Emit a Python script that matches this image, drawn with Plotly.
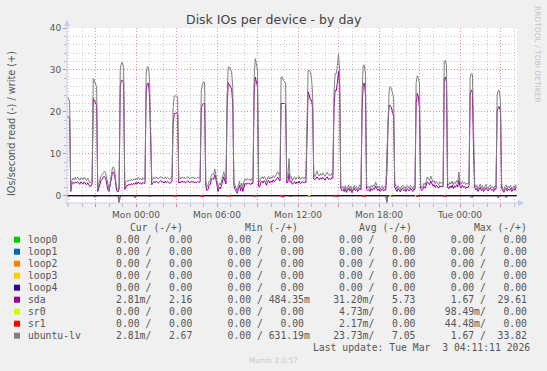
import pandas as pd
import plotly.graph_objects as go

# ---------------- data (5-minute samples, first sample Sun 2026-03-01 18:55) ----------------
START = "2026-03-01 18:55"

lv_write = [
    23.5, 23.0, 22.6,
    1.4,
    3.6, 4.2, 3.8, 4.4, 3.9, 4.5, 4.0, 3.7, 4.3, 4.1, 3.8, 4.4, 4.0, 3.6, 4.2, 3.4, 3.0, 3.2, 3.8,
    28.0, 27.3, 26.5, 26.0,
    1.8, 3.0, 4.2, 4.8, 5.0, 5.6, 5.8, 5.4, 3.8, 2.2, 1.6, 3.0, 5.2, 6.6, 6.9, 6.0, 3.5, 1.8, 1.5, 2.2,
    30.0, 31.7, 31.7, 30.5,
    2.2, 3.3, 3.6, 3.4, 3.8, 3.5, 3.9, 3.6, 4.0, 3.7, 4.2, 3.8, 4.4, 3.9, 4.1, 3.7, 4.3, 3.9, 4.0,
    29.0, 30.8, 30.6, 28.0, 18.3,
    3.7, 4.0, 4.4, 4.1, 4.5, 4.2, 4.0, 4.4, 4.6, 4.2, 4.3, 4.0, 4.5, 4.1, 4.4, 4.2, 3.9, 4.3, 4.4,
    21.0, 23.8, 23.8, 23.8, 23.5,
    4.0, 4.3, 4.1, 4.5, 4.2, 4.4, 4.0, 4.3, 4.6, 4.2, 4.1, 4.4, 4.2, 4.5, 4.0, 4.3, 4.1, 4.4, 4.2, 4.3,
    25.0, 26.4, 27.2, 27.0,
    3.5, 2.1, 2.5, 3.5, 3.6, 5.0, 5.2, 5.0, 6.4, 5.0, 3.0, 1.8, 3.0, 2.5, 3.5, 4.5, 5.7, 4.5, 3.5,
    24.0, 30.7, 30.7, 30.0, 29.5, 26.0,
    3.3, 2.5, 1.4, 1.0, 2.5, 3.5, 2.0, 3.0, 1.8, 3.5, 4.0, 3.6, 4.1, 3.8, 4.0, 3.5, 4.1, 3.9,
    28.0, 32.7, 31.5, 29.9,
    3.5, 3.3, 4.2, 4.5, 4.0, 4.6, 4.2, 3.3, 4.4, 4.6, 4.0, 4.5, 4.2, 4.8, 4.3, 4.6, 5.2, 5.7, 5.0, 4.6,
    28.3, 28.3, 27.5, 27.1, 27.0,
    4.0, 4.5, 8.9, 4.3, 4.6, 3.5, 4.2, 4.5, 3.8, 4.4, 4.1, 4.6, 3.9, 4.3, 4.5, 4.0, 4.4, 4.2,
    22.0, 29.9, 29.9, 29.5, 28.0, 24.0,
    5.0, 4.6, 5.2, 5.9, 5.0, 4.7, 5.3, 4.8, 5.5, 5.0, 4.6, 5.2, 5.6, 4.9, 5.1, 4.7, 5.4, 5.3,
    24.8, 29.1, 29.1, 31.0, 33.82, 30.0,
    2.5, 1.8, 2.2, 1.5, 2.4, 1.2, 2.0, 2.6, 1.6, 2.3, 1.0, 1.9, 2.5, 1.7, 2.2, 1.4, 2.1, 2.6, 2.0,
    25.0, 31.1, 31.1, 29.0,
    2.5, 1.8, 2.2, 1.6, 2.4, 2.0, 2.6, 2.2, 3.3, 2.5, 1.8, 2.3, 1.5, 2.1, 2.4, 1.7, 2.2, 1.9,
    10.5, 20.0, 25.0, 26.0, 25.5, 24.5, 23.5,
    3.0, 2.2, 1.6, 2.4, 2.0, 1.4, 2.3, 2.5, 1.8, 2.2, 1.5, 2.4, 2.1, 1.7, 2.5, 2.0, 1.6, 2.3, 2.2,
    27.0, 28.6, 28.0, 26.8,
    2.5, 1.8, 2.2, 3.0, 2.6, 3.5, 4.5, 4.0, 3.6, 4.7, 3.8, 3.2, 3.6, 2.8, 3.4, 3.0, 2.6, 3.3, 2.9, 3.2, 3.0,
    32.0, 32.3, 31.0,
    3.0, 2.5, 3.2, 2.8, 3.5, 2.6, 3.3, 2.9, 3.6, 3.0, 5.7, 3.1, 2.7, 3.4, 2.9, 3.2, 2.6, 3.0, 2.8, 3.3,
    28.0, 29.1, 29.0, 16.8,
    2.8, 2.0, 2.5, 1.6, 2.2, 2.8, 1.8, 2.4, 1.5, 2.1, 2.7, 2.0, 1.6, 2.3, 2.6, 1.9, 2.2, 1.5, 2.4, 2.1,
    24.0, 25.2, 25.0, 22.4,
    2.5, 1.8, 1.2, 2.2, 2.6, 1.6, 2.3, 1.9, 2.5, 1.4, 2.1, 2.4, 1.8, 2.67,
]

sda_write = [
    18.8, 18.8, 18.5,
    1.0,
    2.8, 3.2, 2.9, 3.3, 3.0, 3.4, 3.1, 2.7, 3.3, 3.0, 2.8, 3.3, 3.0, 2.6, 3.1, 2.5, 2.2, 2.3, 2.8,
    23.2, 22.6, 22.0, 21.6,
    1.0, 2.0, 3.2, 3.7, 4.0, 4.5, 4.6, 4.2, 2.8, 1.4, 1.0, 2.2, 4.2, 5.4, 5.7, 4.9, 2.6, 1.1, 0.9, 1.6,
    26.0, 27.5, 27.5, 27.0,
    1.5, 2.2, 2.5, 2.4, 2.8, 2.5, 2.9, 2.6, 3.0, 2.7, 3.2, 2.8, 3.3, 2.9, 3.1, 2.7, 3.2, 2.9, 3.0,
    25.0, 26.8, 26.8, 24.0, 14.0,
    2.6, 3.0, 3.4, 3.1, 3.5, 3.2, 3.0, 3.4, 3.6, 3.2, 3.3, 3.0, 3.5, 3.1, 3.4, 3.2, 2.9, 3.3, 3.4,
    17.0, 19.6, 19.6, 19.8, 19.4,
    3.0, 3.3, 3.1, 3.5, 3.2, 3.4, 3.0, 3.3, 3.6, 3.2, 3.1, 3.4, 3.2, 3.5, 3.0, 3.3, 3.1, 3.4, 3.2, 3.3,
    21.0, 21.6, 22.0, 22.0,
    2.5, 1.2, 1.5, 2.5, 2.6, 4.0, 4.1, 3.9, 5.0, 4.0, 2.0, 1.0, 2.0, 1.6, 2.5, 3.5, 4.5, 3.5, 2.8,
    21.0, 27.0, 26.5, 26.0, 25.5, 22.0,
    2.5, 1.5, 0.8, 0.6, 1.5, 2.5, 1.2, 2.0, 1.0, 2.5, 3.0, 2.7, 3.1, 2.8, 3.0, 2.6, 3.1, 2.9,
    24.0, 28.3, 26.8, 26.0,
    2.2, 2.1, 3.2, 3.5, 3.0, 3.6, 3.2, 2.5, 3.4, 3.6, 3.0, 3.5, 3.2, 3.8, 3.3, 3.6, 4.0, 4.4, 3.9, 3.5,
    22.0, 22.0, 22.0, 22.0, 21.8,
    3.0, 3.3, 5.3, 3.2, 3.4, 2.7, 3.1, 3.4, 2.8, 3.3, 3.0, 3.5, 2.9, 3.2, 3.4, 3.0, 3.3, 3.1,
    18.0, 24.8, 24.0, 22.8, 22.8, 21.0,
    4.0, 3.8, 4.2, 4.5, 4.0, 3.8, 4.3, 3.9, 4.4, 4.0, 3.7, 4.2, 4.5, 3.9, 4.1, 3.8, 4.3, 4.2,
    21.0, 25.2, 25.0, 27.0, 29.61, 26.0,
    1.8, 1.2, 1.5, 1.0, 1.7, 0.8, 1.4, 1.8, 1.1, 1.6, 0.7, 1.3, 1.8, 1.2, 1.5, 1.0, 1.4, 1.8, 1.4,
    21.0, 26.8, 26.8, 24.0,
    1.5, 1.2, 1.5, 1.0, 1.7, 1.3, 1.8, 1.5, 2.3, 1.7, 1.2, 1.6, 1.0, 1.4, 1.7, 1.1, 1.5, 1.3,
    5.5, 17.0, 21.6, 21.5, 21.0, 20.0, 19.0,
    2.0, 1.5, 1.0, 1.7, 1.3, 0.9, 1.6, 1.8, 1.2, 1.5, 1.0, 1.7, 1.4, 1.1, 1.8, 1.3, 1.0, 1.6, 1.5,
    22.0, 24.4, 23.6, 20.8,
    1.8, 1.2, 1.5, 2.2, 1.8, 2.6, 3.3, 3.0, 2.6, 3.5, 2.8, 2.3, 2.6, 2.0, 2.5, 2.2, 1.8, 2.4, 2.1, 2.3, 2.2,
    28.0, 28.3, 27.0,
    2.0, 1.6, 2.3, 1.9, 2.5, 1.7, 2.4, 2.0, 2.6, 2.1, 3.8, 2.2, 1.8, 2.5, 2.0, 2.3, 1.7, 2.1, 1.9, 2.4,
    24.0, 25.2, 24.8, 11.3,
    2.0, 1.4, 1.8, 1.0, 1.5, 2.0, 1.2, 1.7, 1.0, 1.5, 1.9, 1.4, 1.1, 1.6, 1.8, 1.3, 1.5, 1.0, 1.7, 1.5,
    20.0, 21.2, 21.2, 20.0,
    1.8, 1.2, 0.8, 1.5, 1.8, 1.1, 1.6, 1.3, 1.8, 1.0, 1.5, 1.7, 1.3, 2.16,
]

# reads (drawn downwards, as negative values)
sda_read = [
    0, 0, 0, 0, 0, 0, 0, 0, 0, 0, 0, 0, 0, 0, 0, 0, 0, 0, 0, 0,
    0, 0, 0, 0, 0.3, 0.2, 0, 0, 0, 0, 0, 0, 0, 0, 0, 0, 0, 0, 0, 0,
    0, 0, 0, 0, 0, 0, 1.67, 0, 0, 0, 0, 0, 0, 0, 0, 0, 0, 0, 0, 0,
    0.5, 0, 0, 0, 0, 0, 0, 0, 0, 0, 0, 0, 0, 0.3, 0, 0, 0, 0, 0, 0,
    0, 0, 0, 0, 0, 0, 0, 0, 0, 0, 0, 0, 0, 0, 0, 0, 0.15, 0, 0, 0,
    0, 0, 0, 0, 0, 0, 0, 0, 0, 0, 0, 0, 0, 0, 0, 0, 0, 0, 0, 0,
    0.25, 0, 0, 0, 0, 0, 0, 0, 0, 0, 0, 0, 0, 0, 0, 0, 0, 0, 0, 0,
    0, 0, 0, 0, 0, 0.15, 0, 0, 0, 0, 0, 0, 0, 0, 0, 0, 0, 0, 0, 0,
    0, 0, 0, 0, 0, 0, 0, 0.2, 0, 0, 0, 0, 0, 0, 0, 0, 0, 0, 0, 0,
    0, 0, 0, 0, 0, 0, 0, 0, 0, 0, 0, 0.3, 0.35, 0, 0, 0, 0, 0, 0.2, 0,
    0, 0, 0, 0, 0, 0, 0, 0, 0, 0, 0, 0, 0, 0, 0, 0.2, 0, 0, 0, 0,
    0, 0, 0, 0, 0, 0, 0, 0, 0, 0, 0, 0, 0, 0, 0, 0, 0, 0, 0, 0,
    0.25, 0, 0, 0, 0, 0, 0, 0, 0, 0, 0, 0, 0, 0, 0, 0, 0, 0, 0, 0,
    0, 0, 0, 0, 0.2, 0, 0, 0, 0, 0, 0, 0, 0, 0, 0, 0, 0, 0, 0, 0,
    0, 0, 0, 0, 1.6, 0, 0, 0, 0.3, 0, 0, 0, 0, 0, 0, 0, 0, 0, 0, 0,
    0, 0, 0, 0, 0, 0, 0, 0, 0, 0, 0, 0.3, 0, 0, 0, 0, 0, 0, 0, 0,
    0, 0, 0, 0, 0, 0, 0, 0, 0, 0, 0, 0, 0, 0, 0, 0, 0.2, 0, 0, 0,
    0, 0, 0, 0, 0, 0, 0, 0, 0, 0, 0, 0, 0, 0, 0, 0, 0, 0, 0, 0.35,
    0.4, 0, 0, 0, 0, 0, 0, 0, 0, 0, 0, 0, 0, 0, 0, 0, 0, 0, 0, 0,
    0, 0, 0, 0.5, 0, 0, 0, 0, 0, 0, 0.45, 0, 0, 0, 0, 0, 0, 0, 0, 0,
]

lv_read = [
    0, 0, 0, 0, 0, 0, 0, 0, 0, 0, 0, 0, 0, 0, 0, 0, 0, 0, 0, 0,
    0, 0, 0, 0, 0.25, 0, 0, 0, 0, 0, 0, 0, 0, 0, 0, 0, 0, 0, 0, 0,
    0, 0, 0, 0, 0, 0, 1.67, 0, 0, 0, 0, 0, 0, 0, 0, 0, 0, 0, 0, 0,
    0.4, 0, 0, 0, 0, 0, 0, 0, 0, 0, 0, 0, 0, 0.2, 0, 0, 0, 0, 0, 0,
    0, 0, 0, 0, 0, 0, 0, 0, 0, 0, 0, 0, 0, 0, 0, 0, 0, 0, 0, 0,
    0, 0, 0, 0, 0, 0, 0, 0, 0, 0, 0, 0, 0, 0, 0, 0, 0, 0, 0, 0,
    0.2, 0, 0, 0, 0, 0, 0, 0, 0, 0, 0, 0, 0, 0, 0, 0, 0, 0, 0, 0,
    0, 0, 0, 0, 0, 0, 0, 0, 0, 0, 0, 0, 0, 0, 0, 0, 0, 0, 0, 0,
    0, 0, 0, 0, 0, 0, 0, 0.15, 0, 0, 0, 0, 0, 0, 0, 0, 0, 0, 0, 0,
    0, 0, 0, 0, 0, 0, 0, 0, 0, 0, 0, 0.25, 0.3, 0, 0, 0, 0, 0, 0, 0,
    0, 0, 0, 0, 0, 0, 0, 0, 0, 0, 0, 0, 0, 0, 0, 0, 0, 0, 0, 0,
    0, 0, 0, 0, 0, 0, 0, 0, 0, 0, 0, 0, 0, 0, 0, 0, 0, 0, 0, 0,
    0.2, 0, 0, 0, 0, 0, 0, 0, 0, 0, 0, 0, 0, 0, 0, 0, 0, 0, 0, 0,
    0, 0, 0, 0, 0, 0, 0, 0, 0, 0, 0, 0, 0, 0, 0, 0, 0, 0, 0, 0,
    0, 0, 0, 0, 1.67, 0, 0, 0, 0.25, 0, 0, 0, 0, 0, 0, 0, 0, 0, 0, 0,
    0, 0, 0, 0, 0, 0, 0, 0, 0, 0, 0, 0.25, 0, 0, 0, 0, 0, 0, 0, 0,
    0, 0, 0, 0, 0, 0, 0, 0, 0, 0, 0, 0, 0, 0, 0, 0, 0, 0, 0, 0,
    0, 0, 0, 0, 0, 0, 0, 0, 0, 0, 0, 0, 0, 0, 0, 0, 0, 0, 0, 0.3,
    0.35, 0, 0, 0, 0, 0, 0, 0, 0, 0, 0, 0, 0, 0, 0, 0, 0, 0, 0, 0,
    0, 0, 0, 0.45, 0, 0, 0, 0, 0, 0, 0.4, 0, 0, 0, 0, 0, 0, 0, 0, 0,
]

sr0_read = [
    0, 0, 0, 0, 0, 0, 0, 0, 0, 0, 0, 0, 0, 0, 0, 0, 0, 0, 0, 0,
    0, 0, 0, 0, 0, 0, 0, 0, 0, 0, 0, 0, 0, 0, 0, 0, 0, 0, 0, 0,
    0, 0, 0, 0, 0, 0, 0, 0, 0, 0, 0, 0, 0, 0, 0, 0, 0, 0, 0, 0,
    0, 0, 0, 0, 0, 0, 0, 0, 0, 0, 0, 0, 0, 0, 0, 0, 0, 0, 0, 0,
    0, 0, 0, 0, 0, 0, 0, 0, 0, 0, 0, 0, 0, 0, 0, 0, 0, 0, 0, 0,
    0, 0, 0, 0, 0, 0, 0, 0, 0, 0, 0, 0, 0, 0, 0, 0, 0, 0, 0, 0,
    0, 0, 0, 0, 0, 0, 0, 0, 0, 0, 0, 0, 0, 0, 0, 0, 0, 0, 0, 0,
    0, 0, 0, 0, 0, 0, 0, 0, 0, 0, 0, 0, 0, 0, 0, 0, 0, 0, 0, 0,
    0, 0, 0, 0, 0, 0, 0, 0.05, 0, 0, 0, 0, 0, 0, 0, 0, 0, 0, 0, 0,
    0, 0, 0, 0, 0, 0, 0, 0, 0, 0, 0, 0, 0, 0, 0, 0, 0, 0, 0, 0,
    0, 0, 0, 0, 0, 0, 0, 0, 0, 0, 0, 0, 0, 0, 0, 0.09, 0, 0, 0, 0,
    0, 0, 0, 0, 0, 0, 0, 0, 0, 0, 0, 0, 0, 0, 0, 0, 0, 0, 0, 0,
    0, 0, 0, 0, 0, 0, 0, 0, 0, 0, 0, 0, 0, 0, 0, 0, 0, 0, 0, 0,
    0, 0, 0, 0, 0, 0, 0, 0, 0, 0, 0, 0, 0, 0, 0, 0, 0, 0, 0, 0,
    0, 0, 0, 0, 0, 0, 0, 0.0985, 0, 0, 0, 0, 0, 0, 0, 0, 0, 0, 0, 0,
    0, 0, 0, 0, 0, 0, 0, 0, 0, 0, 0.09, 0, 0, 0, 0, 0, 0, 0, 0, 0,
    0, 0, 0, 0, 0, 0, 0, 0, 0, 0, 0, 0, 0, 0, 0, 0, 0, 0, 0, 0,
    0, 0, 0, 0, 0, 0, 0, 0, 0, 0, 0, 0, 0, 0, 0, 0, 0, 0, 0, 0,
    0, 0, 0, 0, 0, 0, 0, 0, 0, 0, 0, 0, 0, 0, 0, 0, 0, 0, 0, 0,
    0, 0, 0, 0, 0, 0, 0, 0, 0, 0, 0, 0, 0, 0, 0, 0, 0, 0, 0, 0,
]

sr1_read = [
    0, 0, 0, 0, 0, 0, 0, 0, 0, 0, 0, 0, 0, 0, 0, 0, 0, 0, 0, 0,
    0, 0, 0, 0, 0, 0, 0, 0, 0, 0, 0, 0, 0, 0, 0, 0, 0, 0, 0, 0,
    0, 0, 0, 0, 0, 0, 0, 0, 0, 0, 0, 0, 0, 0, 0, 0, 0, 0, 0, 0,
    0, 0, 0, 0, 0, 0, 0, 0, 0, 0, 0, 0, 0, 0, 0, 0, 0, 0, 0, 0,
    0, 0, 0, 0, 0, 0, 0, 0, 0, 0, 0, 0, 0, 0, 0, 0.04, 0.044, 0, 0, 0,
    0, 0, 0, 0, 0, 0, 0, 0, 0, 0, 0, 0, 0, 0, 0, 0, 0, 0, 0, 0.04,
    0.04, 0, 0, 0, 0, 0, 0, 0, 0, 0, 0, 0, 0, 0, 0, 0, 0, 0, 0, 0,
    0, 0, 0, 0.04, 0.04, 0, 0, 0, 0, 0, 0, 0, 0, 0, 0, 0, 0, 0, 0, 0,
    0, 0, 0, 0, 0, 0, 0.04, 0.04, 0, 0, 0, 0, 0, 0, 0, 0, 0, 0, 0, 0,
    0, 0, 0, 0, 0, 0, 0, 0, 0, 0, 0.04, 0.04, 0, 0, 0, 0, 0, 0, 0, 0,
    0, 0, 0, 0, 0, 0, 0, 0, 0, 0, 0, 0, 0, 0, 0, 0, 0, 0, 0, 0,
    0, 0, 0, 0, 0, 0, 0, 0, 0, 0, 0, 0, 0, 0, 0, 0, 0, 0, 0.04, 0.04,
    0, 0, 0, 0, 0, 0, 0, 0, 0, 0, 0, 0, 0, 0, 0, 0, 0, 0, 0, 0,
    0, 0, 0, 0.044, 0.04, 0, 0, 0, 0, 0, 0, 0, 0, 0, 0, 0, 0, 0, 0, 0,
    0, 0, 0, 0, 0, 0, 0, 0, 0, 0, 0, 0, 0, 0, 0, 0, 0, 0, 0, 0,
    0, 0, 0, 0, 0, 0, 0, 0, 0, 0, 0, 0.04, 0, 0, 0, 0, 0, 0, 0, 0,
    0, 0, 0, 0, 0, 0, 0, 0, 0, 0, 0, 0, 0, 0, 0, 0.04, 0.04, 0, 0, 0,
    0, 0, 0, 0, 0, 0, 0, 0, 0, 0, 0, 0, 0, 0, 0, 0, 0, 0, 0, 0,
    0, 0, 0, 0, 0, 0, 0, 0, 0, 0, 0, 0, 0, 0, 0, 0, 0, 0, 0, 0,
    0, 0, 0, 0, 0, 0, 0, 0, 0, 0, 0, 0, 0, 0, 0, 0, 0, 0, 0, 0,
]

for _s in (lv_write, sda_write, sda_read, lv_read, sr0_read, sr1_read):
    assert len(_s) == 400, len(_s)

x_range = ["2026-03-01 18:53:20", "2026-03-03 04:13:20"]
x_tick_vals = ["2026-03-01 21:00", "2026-03-02 00:00", "2026-03-02 03:00", "2026-03-02 06:00",
               "2026-03-02 09:00", "2026-03-02 12:00", "2026-03-02 15:00", "2026-03-02 18:00",
               "2026-03-02 21:00", "2026-03-03 00:00", "2026-03-03 03:00"]
x_tick_text = ["", "Mon 00:00", "", "Mon 06:00", "", "Mon 12:00", "", "Mon 18:00", "", "Tue 00:00", ""]
y_tick_vals = [0, 10, 20, 30, 40]

# legend table
devices = ["loop0", "loop1", "loop2", "loop3", "loop4", "sda", "sr0", "sr1", "ubuntu-lv"]
dev_colors = ["#00CC00", "#0066B3", "#FF8000", "#FFCC00", "#330099", "#990099", "#CCFF00", "#FF0000", "#808080"]
cur_read = ["0.00", "0.00", "0.00", "0.00", "0.00", "2.81m", "0.00", "0.00", "2.81m"]
cur_write = ["0.00", "0.00", "0.00", "0.00", "0.00", "2.16", "0.00", "0.00", "2.67"]
min_read = ["0.00", "0.00", "0.00", "0.00", "0.00", "0.00", "0.00", "0.00", "0.00"]
min_write = ["0.00", "0.00", "0.00", "0.00", "0.00", "484.35m", "0.00", "0.00", "631.19m"]
avg_read = ["0.00", "0.00", "0.00", "0.00", "0.00", "31.20m", "4.73m", "2.17m", "23.73m"]
avg_write = ["0.00", "0.00", "0.00", "0.00", "0.00", "5.73", "0.00", "0.00", "7.05"]
max_read = ["0.00", "0.00", "0.00", "0.00", "0.00", "1.67", "98.49m", "44.48m", "1.67"]
max_write = ["0.00", "0.00", "0.00", "0.00", "0.00", "29.61", "0.00", "0.00", "33.82"]
col_heads = ["Cur (-/+)", "Min (-/+)", "Avg (-/+)", "Max (-/+)"]
last_update = "Last update: Tue Mar  3 04:11:11 2026"

# ---------------- figure ----------------
W, H = 547, 371
PL, PR, PT, PB = 67, 517, 28, 203          # plot area in pixels


def px(x):
    return (x - PL) / (PR - PL)


def py(y):
    return (PB - y) / (PB - PT)


times = pd.date_range(START, periods=len(lv_write), freq="5min")
SDA, LV = "#990099", "#808080"

fig = go.Figure()


def add_line(y, color, width=1.0):
    fig.add_trace(go.Scatter(x=times, y=y, mode="lines", line=dict(color=color, width=width),
                             hoverinfo="skip", showlegend=False, connectgaps=False))


add_line([-v for v in sda_read], SDA)
add_line([-v for v in lv_read], LV)
add_line(sda_write, SDA)
add_line(lv_write, LV)
# zero rule
fig.add_trace(go.Scatter(x=x_range, y=[0, 0], mode="lines", line=dict(color="#000000", width=1),
                         hoverinfo="skip", showlegend=False))


def visible(vals):
    n = len(vals)
    out = []
    for i, v in enumerate(vals):
        near = v > 0 or (i > 0 and vals[i - 1] > 0) or (i < n - 1 and vals[i + 1] > 0)
        out.append(-v if near else None)
    return out


add_line(visible(sr0_read), "#CCFF00", 1.5)
add_line(visible(sr1_read), "#FF0000", 1.5)

FONT = "DejaVu Sans"
MONO = "DejaVu Sans Mono"
TXT = "#555555"
MGRID = "rgba(228,110,110,0.55)"
GRID = "rgba(160,160,160,0.55)"

fig.update_layout(
    width=W, height=H, autosize=False,
    margin=dict(l=PL, r=W - PR, t=PT, b=H - PB, pad=0),
    paper_bgcolor="#F0F0F0", plot_bgcolor="#FFFFFF",
    showlegend=False,
    xaxis=dict(type="date", range=x_range, tickmode="array", tickvals=x_tick_vals, ticktext=x_tick_text,
               ticks="outside", ticklen=3, tickwidth=1, tickcolor="#E08080",
               showgrid=True, gridcolor=MGRID, griddash="1px,2px", gridwidth=1,
               zeroline=False, showline=False,
               tickfont=dict(family=FONT, size=9, color=TXT),
               minor=dict(tickmode="linear", tick0="2026-03-02 00:00", dtick=3600000, ticks="outside",
                          ticklen=3, tickcolor="#BBBBBB", showgrid=True, gridcolor=GRID,
                          griddash="1px,2px", gridwidth=1)),
    yaxis=dict(range=[-1.74, 40.0], tickmode="array", tickvals=y_tick_vals,
               ticks="outside", ticklen=3, tickwidth=1, tickcolor="#E08080",
               showgrid=True, gridcolor=MGRID, griddash="1px,2px", gridwidth=1,
               zeroline=False, showline=False,
               tickfont=dict(family=FONT, size=9, color=TXT),
               minor=dict(tickmode="linear", tick0=0, dtick=2, ticks="outside", ticklen=2,
                          tickcolor="#BBBBBB", showgrid=True, gridcolor=GRID,
                          griddash="1px,2px", gridwidth=1)),
)

# axis lines with arrows
AX = "#C4CCEA"
shapes = [
    dict(type="line", xref="paper", yref="paper", x0=px(PL), x1=px(519), y0=py(PB), y1=py(PB),
         line=dict(color=AX, width=1)),
    dict(type="line", xref="paper", yref="paper", x0=px(PL), x1=px(PL), y0=py(PB + 3), y1=py(25),
         line=dict(color=AX, width=1)),
    dict(type="path", xref="paper", yref="paper",
         path=f"M {px(518)},{py(PB - 3)} L {px(524)},{py(PB)} L {px(518)},{py(PB + 3)} Z",
         fillcolor=AX, line=dict(color=AX, width=0)),
    dict(type="path", xref="paper", yref="paper",
         path=f"M {px(PL - 3)},{py(26)} L {px(PL)},{py(20)} L {px(PL + 3)},{py(26)} Z",
         fillcolor=AX, line=dict(color=AX, width=0)),
]

annotations = []


def note(text, x, y, size, color=TXT, family=FONT, xanchor="left", angle=0):
    annotations.append(dict(text=text, xref="paper", yref="paper", x=px(x), y=py(y), showarrow=False,
                            xanchor=xanchor, yanchor="middle", textangle=angle,
                            font=dict(family=family, size=size, color=color), borderpad=0))


note("Disk IOs per device - by day", 274, 20, 12.5, color="#444444", xanchor="center")
note("IOs/second read (-) / write (+)", 11, 124, 9.7, xanchor="center", angle=-90)
note("RRDTOOL / TOBI OETIKER", 538, 54, 7.5, color="#C4C4C4", xanchor="center", angle=90)
note("Munin 2.0.57", 273, 360, 7.5, color="#C8C8C8", xanchor="center")


def cell(s, w):
    if s.endswith("m"):
        return s[:-1].rjust(w) + "m"
    return s.rjust(w) + " "


head_x = [129.3, 244.3, 357.7, 472.7]
for hx, h in zip(head_x, col_heads):
    note(h.replace(" ", "\u00a0"), hx, 227.5, 9.75, family=MONO)

ROW0, DY = 239.7, 12.0
for k, name in enumerate(devices):
    blocks = []
    for r, w in ((cur_read[k], cur_write[k]), (min_read[k], min_write[k]),
                 (avg_read[k], avg_write[k]), (max_read[k], max_write[k])):
        blocks.append(cell(r, 6) + "/" + cell(w, 7))
    row = name.ljust(13) + "   ".join(blocks)
    yc = ROW0 + DY * k
    note(row.replace(" ", "\u00a0"), 27.3, yc, 9.75, family=MONO)
    shapes.append(dict(type="rect", xref="paper", yref="paper", x0=px(14), x1=px(20),
                       y0=py(yc + 3), y1=py(yc - 3), fillcolor=dev_colors[k], line=dict(width=0)))

note(last_update.replace(" ", "\u00a0"), 312, 347.5, 9.75, family=MONO)

fig.update_layout(shapes=shapes, annotations=annotations)
fig.write_html("out.html")
